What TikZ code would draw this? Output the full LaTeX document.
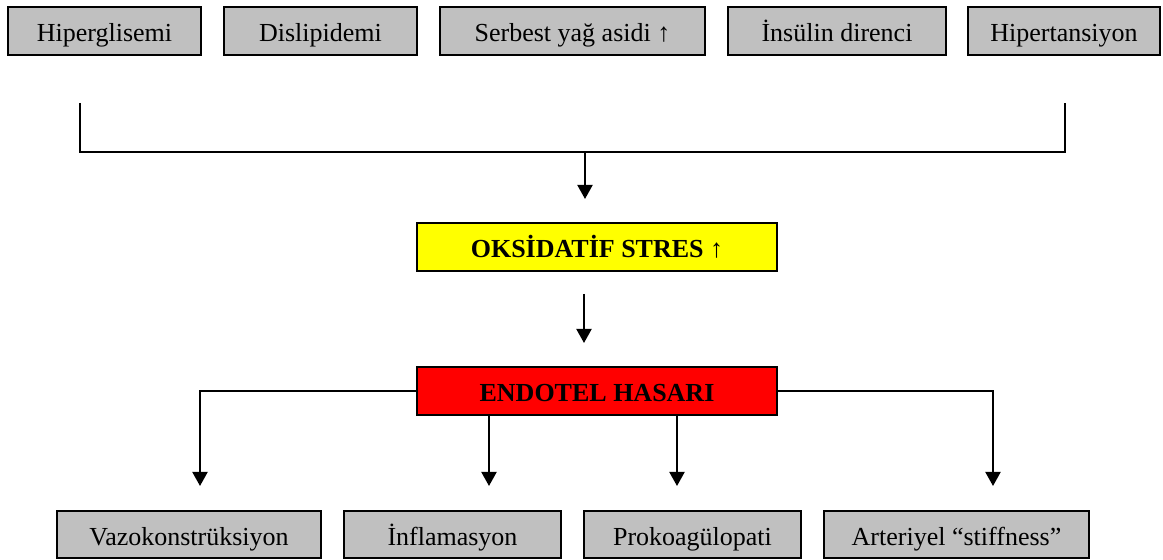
\documentclass[tikz,border=0pt]{standalone}
\usepackage{fontspec}
\setmainfont{Liberation Serif}
\usetikzlibrary{arrows.meta}
\definecolor{boxgray}{HTML}{C0C0C0}
\definecolor{stresyellow}{HTML}{FFFF00}
\definecolor{hasarred}{HTML}{FF0000}
\begin{document}
\begin{tikzpicture}[x=0.5pt, y=-0.5pt,
		kutu/.style={draw=black, line width=1pt, fill=boxgray, minimum height=24pt, inner sep=0pt,
			text height=12pt, text depth=1pt, font=\fontsize{13}{15}\selectfont},
		vurgu/.style={kutu, font=\fontsize{13}{15}\selectfont\bfseries, minimum width=180pt},
		cizgi/.style={line width=1pt},
		ok/.style={line width=1pt, -{Triangle[length=7pt, width=7.5pt]}}]
			
				\useasboundingbox (0,0) rectangle (1163,560);
			
				% ust sira: risk faktorleri
				\node[kutu, minimum width=96.5pt] (hiper) at (104.5,31) {Hiperglisemi};
				\node[kutu, minimum width=96.5pt] (dislip) at (320.5,31) {Dislipidemi};
				\node[kutu, minimum width=132.5pt] (serbest) at (572.5,31) {Serbest yağ asidi ↑};
				\node[kutu, minimum width=109pt] (insulin) at (837,31) {İnsülin direnci};
				\node[kutu, minimum width=96pt] (hipert) at (1064,31) {Hipertansiyon};
			
				\coordinate (brSolUst) at (80,103);
				\coordinate (brSolAlt) at (80,152);
				\coordinate (brSagAlt) at (1065,152);
				\coordinate (brSagUst) at (1065,103);
				\draw[cizgi] (brSolUst) -- (brSolAlt) -- (brSagAlt) -- (brSagUst);
			
				\coordinate (okBas1) at (585,152);
				\coordinate (okUc1) at (585,199);
				\draw[ok] (okBas1) -- (okUc1);
			
				% oksidatif stres
				\node[vurgu, fill=stresyellow] (stres) at (597,247) {OKSİDATİF STRES ↑};
			
				\coordinate (okBas2) at (584,294);
				\coordinate (okUc2) at (584,343);
				\draw[ok] (okBas2) -- (okUc2);
			
				% endotel hasari
				\node[vurgu, fill=hasarred] (endotel) at (597,391) {ENDOTEL HASARI};
			
				% alt sira: sonuclar
				\node[kutu, minimum width=132pt, minimum height=23.5pt] (vazo) at (189,534.5) {Vazokonstrüksiyon};
				\node[kutu, minimum width=108.5pt, minimum height=23.5pt] (inflam) at (452.5,534.5) {İnflamasyon};
				\node[kutu, minimum width=108.5pt, minimum height=23.5pt] (prokoag) at (692.5,534.5) {Prokoagülopati};
				\node[kutu, minimum width=132.5pt, minimum height=23.5pt] (arter) at (956.5,534.5) {Arteriyel “stiffness”};
			
				\coordinate (ucVazo) at (200,486);
				\coordinate (ucInflam) at (489,486);
				\coordinate (ucProkoag) at (677,486);
				\coordinate (ucArter) at (993,486);
				\draw[ok] (endotel.west) -| (ucVazo);
				\draw[ok] (endotel.south -| ucInflam) -- (ucInflam);
				\draw[ok] (endotel.south -| ucProkoag) -- (ucProkoag);
				\draw[ok] (endotel.east) -| (ucArter);
			
			\end{tikzpicture}
\end{document}
